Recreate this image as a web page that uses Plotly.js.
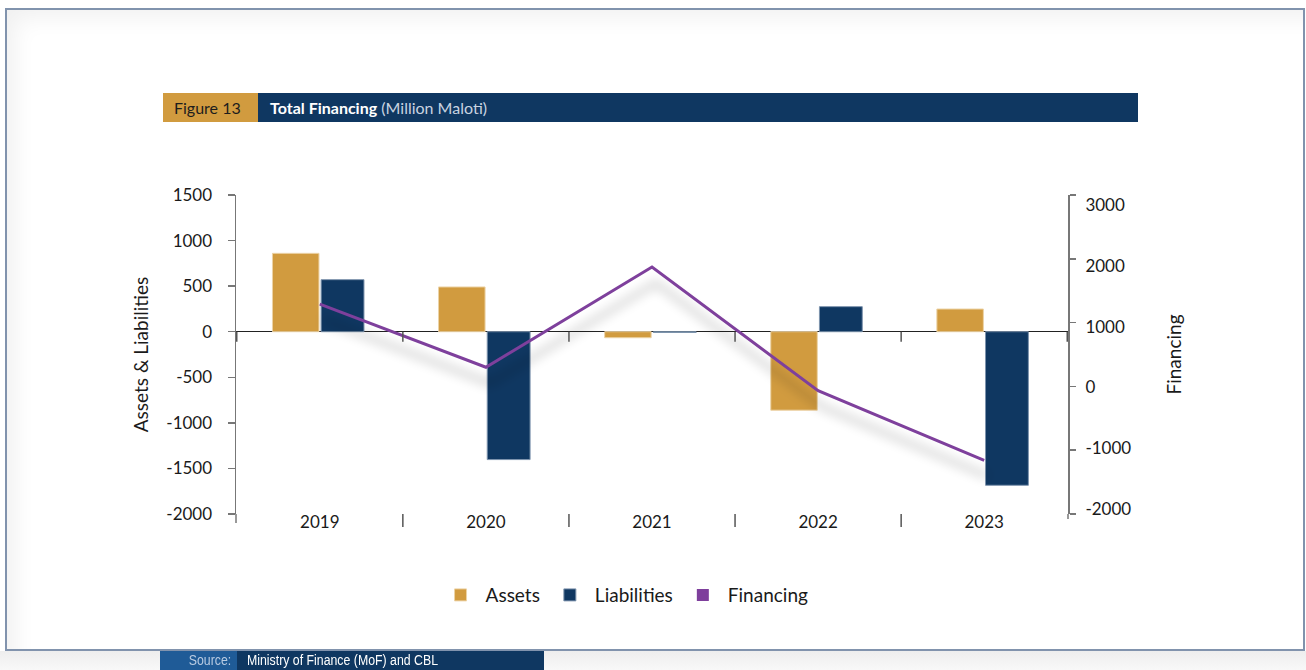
<!DOCTYPE html>
<html>
<head>
<meta charset="utf-8">
<script src="https://cdn.plot.ly/plotly-3.0.1.min.js"></script>
<style>
  html, body { margin:0; padding:0; background:#ffffff; }
  body { width:1306px; height:670px; position:relative; overflow:hidden; font-family: Lato, "Noto Sans", sans-serif; }
  #frame { position:absolute; left:5px; top:8px; width:1300px; height:643px; box-sizing:border-box;
           border:2px solid #8193ad; box-shadow: inset 22px 22px 22px -14px rgba(0,0,0,0.06); }
  #strip { position:absolute; left:0; top:651px; width:1306px; height:19px; background:linear-gradient(#eeeeee,#f8f8f8); }
  #chart { position:absolute; left:0; top:0; width:1306px; height:670px; }
  .hdr { position:absolute; top:93px; height:29px; line-height:29px; font-size:16px; white-space:nowrap; }
  #hdrL { left:163px; width:95px; background:#d19b3f; color:#1d1d1d; padding-left:11px; box-sizing:border-box; }
  #hdrR { left:258px; width:880px; background:#0f3761; color:#ffffff; padding-left:12px; box-sizing:border-box; }
  #hdrR b { font-weight:700; }
  #hdrR span { color:#c9d3e0; }
  .src { position:absolute; top:651px; height:19px; line-height:19px; font-size:14px; white-space:nowrap;
         font-family:"Liberation Sans Narrow", "Liberation Sans", sans-serif; overflow:hidden; }
  .src span { display:inline-block; transform:scaleX(0.88); }
  #srcL { left:160px; width:77px; background:#1f5b97; color:#b8cbe2; text-align:right; padding-right:6px; box-sizing:border-box; }
  #srcL span { transform-origin:right center; }
  #srcR { left:237px; width:307px; background:#0f3761; color:#ffffff; padding-left:10px; box-sizing:border-box; }
  #srcR span { transform-origin:left center; }
  .scatterlayer .trace .js-line { filter:url(#lineShadow); }
</style>
</head>
<body>
<svg width="0" height="0" style="position:absolute">
  <defs>
    <filter id="lineShadow" x="-10%" y="-40%" width="120%" height="180%">
      <feGaussianBlur in="SourceAlpha" stdDeviation="6"/>
      <feOffset dx="4" dy="16" result="blur"/>
      <feComponentTransfer><feFuncA type="linear" slope="0.36"/></feComponentTransfer>
      <feMerge><feMergeNode/><feMergeNode in="SourceGraphic"/></feMerge>
    </filter>
  </defs>
</svg>
<div id="frame"></div>
<div id="strip"></div>
<div id="chart"></div>
<div class="hdr" id="hdrL">Figure 13</div>
<div class="hdr" id="hdrR"><b>Total Financing</b> <span>(Million Maloti)</span></div>
<div class="src" id="srcL"><span>Source:</span></div>
<div class="src" id="srcR"><span>Ministry of Finance (MoF) and CBL</span></div>
<script>
// ---- data ----
const years = ['2019', '2020', '2021', '2022', '2023'];
const assets = [860, 491, -66, -861, 249];
const liabilities = [571, -1403, -8, 275, -1685];
const financing = [1290, 300, 1870, -68, -1161];
const leftTicks = [-2000, -1500, -1000, -500, 0, 500, 1000, 1500];
const rightTicks = [-2000, -1000, 0, 1000, 2000, 3000];

const FONT = 'Lato, "Noto Sans", sans-serif';
const tickFont = { family: FONT, size: 17, color: '#1a1a1a' };
const titleFont = { family: FONT, size: 19, color: '#1a1a1a' };
const purple = '#7e3f9c';

const traces = [
  { type: 'bar', name: 'Assets', x: years, y: assets, offsetgroup: 'a',
    offset: -0.285, width: 0.28,
    marker: { color: '#d19b3f', line: { color: '#ecd3a6', width: 1 } } },
  { type: 'bar', name: 'Liabilities', x: years, y: liabilities, offsetgroup: 'b',
    offset: 0.008, width: 0.258,
    marker: { color: '#0f3761', line: { color: '#7d93ad', width: 1 } } },
  { type: 'scatter', mode: 'lines', name: 'Financing', x: years, y: financing, yaxis: 'y2',
    showlegend: false, line: { color: purple, width: 3 } },
  // legend entry only (square swatch like the reference key)
  { type: 'bar', name: 'Financing', x: [years[0]], y: [null], offsetgroup: 'a',
    marker: { color: purple }, hoverinfo: 'skip' },
  // carrier for the right-hand tick labels (drawn slightly offset in the original)
  { type: 'scatter', mode: 'none', x: [years[0]], y: [null], yaxis: 'y3', showlegend: false, hoverinfo: 'skip' }
];

// category boundary ticks (decorative)
const shapes = [];
for (let i = 0; i <= years.length; i++) {
  const b = i - 0.5;
  shapes.push({ type: 'line', xref: 'x', yref: 'y', ysizemode: 'pixel', yanchor: 0,
    x0: b, x1: b, y0: 0, y1: -10, line: { color: '#555', width: 1.5 } });
  if (i > 0 && i < years.length) {
    shapes.push({ type: 'line', xref: 'x', yref: 'paper', ysizemode: 'pixel', yanchor: 0,
      x0: b, x1: b, y0: 0, y1: -13, line: { color: '#555', width: 1.5 } });
  }
}
shapes.push({ type: 'line', xref: 'paper', yref: 'paper', ysizemode: 'pixel', yanchor: 0,
  x0: 0, x1: 0, y0: 0, y1: -9, line: { color: '#777', width: 1.5 } });
shapes.push({ type: 'line', xref: 'paper', yref: 'paper', ysizemode: 'pixel', yanchor: 0,
  x0: 1, x1: 1, y0: 0, y1: -5, line: { color: '#777', width: 1.5 } });

const layout = {
  width: 1306, height: 670,
  margin: { l: 236, r: 238, t: 195, b: 156, pad: 0 },
  paper_bgcolor: 'rgba(0,0,0,0)', plot_bgcolor: 'rgba(0,0,0,0)',
  font: tickFont,
  barmode: 'group',
  showlegend: true,
  legend: { orientation: 'h', x: 0.467, xanchor: 'center', y: -0.254, yanchor: 'middle',
    font: titleFont, itemwidth: 40, traceorder: 'normal' },
  xaxis: { type: 'category', showgrid: false, zeroline: false, showline: false, ticks: '',
    tickfont: tickFont, ticklabelstandoff: -4 },
  yaxis: { range: [-2000, 1500], tickvals: leftTicks, ticktext: leftTicks.map(String), showgrid: false,
    zeroline: true, zerolinecolor: '#222', zerolinewidth: 1.5,
    showline: true, linecolor: '#777', linewidth: 1.5,
    ticks: 'outside', ticklen: 7, tickcolor: '#777', tickwidth: 1.5,
    ticklabelstandoff: 12, tickfont: tickFont,
    title: { text: 'Assets & Liabilities', standoff: 12, font: titleFont } },
  yaxis2: { overlaying: 'y', side: 'right', range: [-2000, 3000], tickvals: rightTicks,
    showticklabels: false, showgrid: false, zeroline: false,
    showline: true, linecolor: '#777', linewidth: 1.5,
    ticks: 'outside', ticklen: 6, tickcolor: '#777', tickwidth: 1.5 },
  yaxis3: { overlaying: 'y', side: 'right', range: [-2082, 3164], tickvals: rightTicks,
    ticktext: rightTicks.map(String), showgrid: false, zeroline: false, showline: false,
    ticks: 'outside', ticklen: 6, tickcolor: 'rgba(0,0,0,0)',
    ticklabelstandoff: 7, tickfont: tickFont,
    title: { text: 'Financing', standoff: 37, font: titleFont } },
  shapes: shapes
};

Plotly.newPlot('chart', traces, layout, { displayModeBar: false, staticPlot: true });
</script>
</body>
</html>
